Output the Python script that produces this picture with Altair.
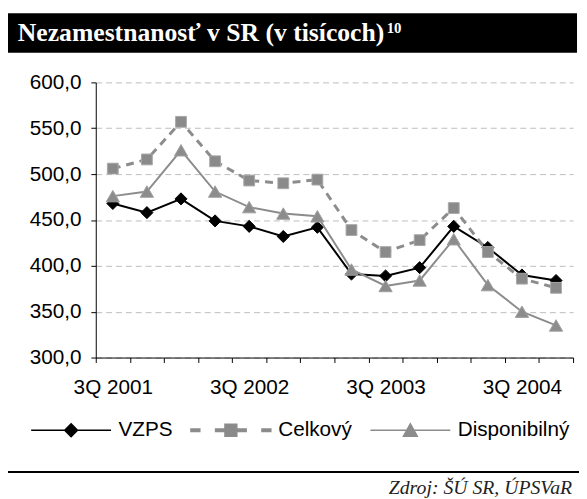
import altair as alt
import pandas as pd

# ---- data ----
quarters = ["3Q 2001", "4Q 2001", "1Q 2002", "2Q 2002", "3Q 2002", "4Q 2002", "1Q 2003",
            "2Q 2003", "3Q 2003", "4Q 2003", "1Q 2004", "2Q 2004", "3Q 2004", "4Q 2004"]
series = ["VZPS", "Celkový", "Disponibilný"]
vzps = [468, 458, 473, 449, 443, 432, 442, 391, 389, 398, 443, 420, 390, 384]
celkovy = [506, 516, 557, 514, 493, 490, 494, 439, 415, 428, 463, 415, 386, 376]
disponibilny = [476, 481, 526, 481, 464, 457, 454, 396, 378, 384, 429, 379, 350, 335]
y_ticks = [300, 350, 400, 450, 500, 550, 600]

title_text = "Nezamestnanosť v SR (v tisícoch)"
title_sup = "10"
source_text = "Zdroj: ŠÚ SR, ÚPSVaR"

values = {"VZPS": vzps, "Celkový": celkovy, "Disponibilný": disponibilny}
df = pd.DataFrame([
    {"Q": q, "Series": s, "v": v}
    for s in series for q, v in zip(quarters, values[s])
])

SANS = "Liberation Sans"
SERIF = "Liberation Serif"
GRAY = "#8c8c8c"

x_enc = alt.X("Q:N", sort=quarters,
              scale=alt.Scale(type="band", paddingInner=0, paddingOuter=0),
              axis=alt.Axis(title=None, tickBand="extent", labelAngle=0, labelOverlap=False,
                            labelExpr="substring(datum.label, 0, 2) == '3Q' ? datum.label : ''",
                            labelFont=SANS, labelFontSize=21, labelColor="black",
                            tickSize=5, tickColor="black", domainColor="black",
                            labelPadding=14, grid=False))
y_enc = alt.Y("v:Q", scale=alt.Scale(domain=[300, 600], nice=False, zero=False),
              axis=alt.Axis(title=None, values=y_ticks,
                            labelExpr="replace(format(datum.value, '.1f'), '.', ',')",
                            labelFont=SANS, labelFontSize=21, labelColor="black",
                            tickSize=5, tickColor="black", domainColor="black",
                            labelPadding=10, grid=True, gridDash=[6, 4],
                            gridColor="#bdbdbd", gridWidth=1))

base = alt.Chart(df)

style = {
    "VZPS": dict(line=dict(color="black", strokeWidth=2),
                 pt=dict(shape="diamond", fill="black", stroke="black", size=150)),
    "Celkový": dict(line=dict(color=GRAY, strokeWidth=3, strokeDash=[8, 6]),
                    pt=dict(shape="square", fill="#8a8a8a", stroke="#a8a8a8", size=120)),
    "Disponibilný": dict(line=dict(color=GRAY, strokeWidth=2),
                         pt=dict(shape="triangle-up", fill=GRAY, stroke="#a0a0a0", size=180)),
}

layers = []
for s in series:
    sub = base.transform_filter(alt.datum.Series == s)
    layers.append(sub.mark_line(**style[s]["line"]).encode(x=x_enc, y=y_enc))
    layers.append(sub.mark_point(filled=True, opacity=1, strokeWidth=1, **style[s]["pt"]).encode(x=x_enc, y=y_enc))

# legend symbols: line + marker drawn as custom symbol paths
legend_paths = [
    "M0,0L16.2,0M8.1,-1.3L9.4,0L8.1,1.3L6.8,0Z",
    "M0,-0.25L1.8,-0.25L1.8,0.25L0,0.25Z M5,-0.25L6.9,-0.25L6.9,0.25L5,0.25Z "
    "M9.3,-0.25L11.2,-0.25L11.2,0.25L9.3,0.25Z M14.4,-0.25L16.2,-0.25L16.2,0.25L14.4,0.25Z "
    "M6.9,-1.2L9.3,-1.2L9.3,1.2L6.9,1.2Z",
    "M0,0L16.2,0M8.1,-1.3L9.5,1.2L6.7,1.2Z",
]
legend_fill = ["black", "#8a8a8a", GRAY]
legend_stroke = ["black", GRAY, GRAY]
leg = alt.Legend(orient="none", legendX=-76, legendY=342, direction="horizontal", title=None,
                 symbolSize=100, symbolStrokeWidth=1.5, symbolOpacity=1, labelOffset=78,
                 columnPadding=8, labelFont=SANS, labelFontSize=21, labelColor="black", padding=0)
legend_layer = base.transform_filter("false").mark_point(filled=True, opacity=1, strokeWidth=1.5).encode(
    x=x_enc, y=y_enc,
    shape=alt.Shape("Series:N", scale=alt.Scale(domain=series, range=legend_paths), legend=leg),
    fill=alt.Fill("Series:N", scale=alt.Scale(domain=series, range=legend_fill), legend=leg),
    stroke=alt.Stroke("Series:N", scale=alt.Scale(domain=series, range=legend_stroke), legend=leg),
)
layers.append(legend_layer)

# header bar with title
one = pd.DataFrame({"t": [title_text]})
header = alt.Chart(one).mark_rect(color="black").encode(
    x=alt.value(-93), x2=alt.value(488), y=alt.value(-70), y2=alt.value(-30))
title = alt.Chart(one).mark_text(align="left", baseline="alphabetic", font=SERIF, fontSize=26,
                                 fontWeight="bold", color="white").encode(
    x=alt.value(-79), y=alt.value(-42), text="t:N")
sup = alt.Chart(pd.DataFrame({"t": [title_sup]})).mark_text(
    align="left", baseline="alphabetic", font=SERIF, fontSize=15, fontWeight="bold",
    color="white").encode(x=alt.value(295), y=alt.value(-50), text="t:N")

sep = alt.Chart(one).mark_rule(color="black", strokeWidth=2).encode(
    x=alt.value(-92), x2=alt.value(490), y=alt.value(395))
src = alt.Chart(pd.DataFrame({"t": [source_text]})).mark_text(
    align="right", baseline="alphabetic", font=SERIF, fontSize=20, fontStyle="italic",
    color="#222222").encode(x=alt.value(483), y=alt.value(417), text="t:N")

chart = alt.layer(header, title, sup, *layers, sep, src).properties(
    width=484, height=279, autosize="none",
    padding={"left": 89, "top": 72, "right": 6, "bottom": 140},
).configure_view(stroke=None)

chart.save("out.html", embed_options={"renderer": "svg", "actions": False})
